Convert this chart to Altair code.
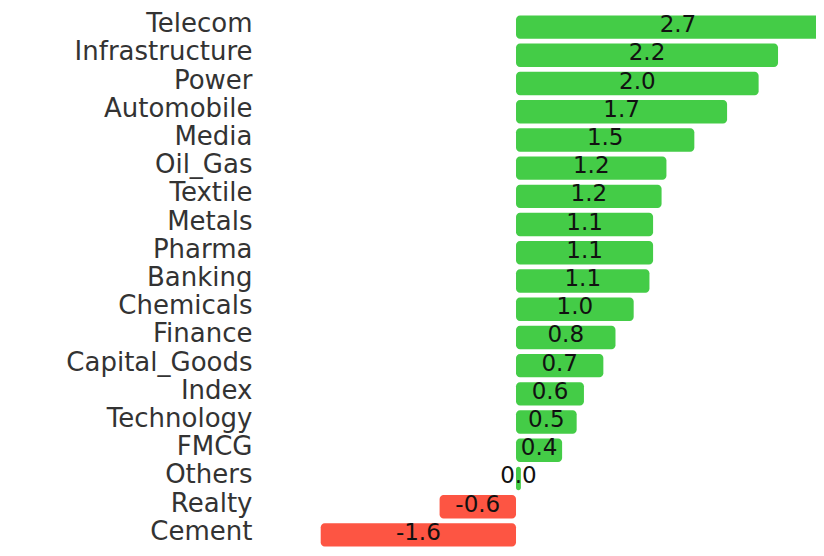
import altair as alt
import pandas as pd

sectors = ["Telecom", "Infrastructure", "Power", "Automobile", "Media", "Oil_Gas",
           "Textile", "Metals", "Pharma", "Banking", "Chemicals", "Finance",
           "Capital_Goods", "Index", "Technology", "FMCG", "Others", "Realty", "Cement"]
values = [2.67, 2.16, 2.00, 1.74, 1.47, 1.24, 1.20, 1.13, 1.13, 1.10, 0.97, 0.82,
          0.72, 0.56, 0.50, 0.38, 0.04, -0.63, -1.61]

df = pd.DataFrame({"sector": sectors, "value": values})

y_scale = alt.Scale(paddingInner=0.17, paddingOuter=0.085, range=[0, 536])
y_enc = alt.Y("sector:N", sort=sectors, title=None, scale=y_scale,
              axis=alt.Axis(ticks=False, domain=False, labelFontSize=26,
                            labelFont="DejaVu Sans", labelColor="#333333",
                            labelPadding=10, labelLimit=400, labelOffset=-3))
x_scale = alt.Scale(domain=[-2.094, 2.473], nice=False, zero=False)

bars = alt.Chart(df).mark_bar(cornerRadius=4, clip=True).encode(
    x=alt.X("value:Q", scale=x_scale, axis=None),
    x2=alt.datum(0),
    y=y_enc,
    color=alt.condition(alt.datum.value >= 0, alt.value("#44cc47"), alt.value("#fd5543")),
)

labels = alt.Chart(df).transform_calculate(
    mid="datum.value / 2",
    lbl="replace(format(datum.value, '.1f'), '\u2212', '-')",
).mark_text(font="DejaVu Sans", fontSize=23, color="#111111", align="center",
            baseline="middle", dy=-2).encode(
    x=alt.X("mid:Q", scale=x_scale, axis=None),
    y=alt.Y("sector:N", sort=sectors),
    text=alt.Text("lbl:N"),
)

chart = (bars + labels).properties(
    width=554, height=534,
    autosize=alt.AutoSizeParams(type="none"),
    padding={"left": 254, "top": 5, "right": 0, "bottom": 0},
).configure_view(stroke=None)

chart.save("out.html", embed_options={"renderer": "svg", "actions": False})
